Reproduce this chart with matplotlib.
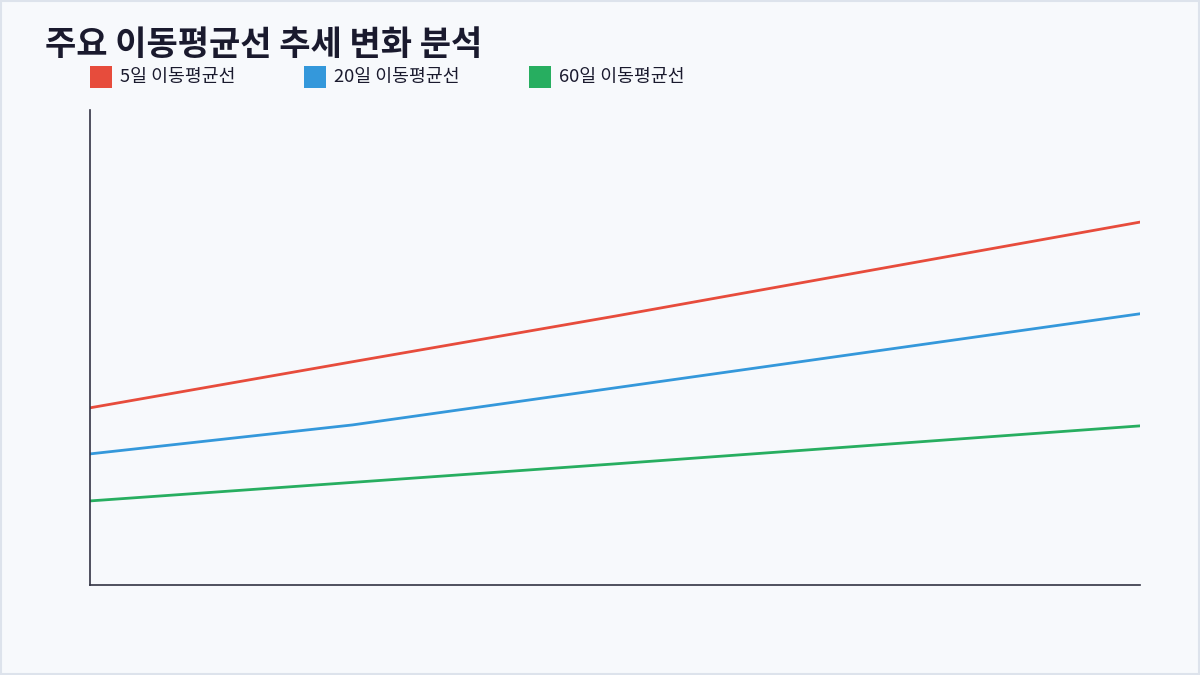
import matplotlib
matplotlib.use("Agg")
import matplotlib.pyplot as plt
from matplotlib.patches import Rectangle

plt.rcParams['font.family'] = ['Noto Sans CJK KR', 'DejaVu Sans']

periods = [0, 1, 2, 3, 4]
ma5 = [37.3, 47.0, 56.6, 66.5, 76.4]
ma20 = [27.6, 33.7, 41.5, 49.3, 57.1]
ma60 = [17.7, 21.6, 25.5, 29.5, 33.5]
labels = ["5일 이동평균선", "20일 이동평균선", "60일 이동평균선"]
colors = ["#e74c3c", "#3498db", "#27ae60"]

fig = plt.figure(figsize=(12, 6.75), dpi=100)
fig.patch.set_facecolor("#f7f9fc")
fig.add_artist(Rectangle((0.001, 0.001), 0.998, 0.997, transform=fig.transFigure,
                         fill=False, edgecolor="#dde3ec", linewidth=1.5))
ax = fig.add_axes([90/1200, 1-585/675, 1050/1200, 475/675])
ax.set_facecolor("#f7f9fc")
for s, c in zip([ma5, ma20, ma60], colors):
    ax.plot(periods, s, color=c, linewidth=2)
ax.set_xlim(0, 4)
ax.set_ylim(0, 100)
ax.set_xticks([]); ax.set_yticks([])
for sp in ["top", "right"]:
    ax.spines[sp].set_visible(False)
for sp in ["left", "bottom"]:
    ax.spines[sp].set_color("#333344")
    ax.spines[sp].set_linewidth(1.2)

fig.text(45/1200, 1-44/675, "주요 이동평균선 추세 변화 분석", fontsize=24.5, fontweight="bold",
         color="#1a1a2e", va="center", ha="left")
xs = [90, 304, 529]
for x, l, c in zip(xs, labels, colors):
    fig.add_artist(Rectangle((x/1200, 1-88/675), 22/1200, 22/675, transform=fig.transFigure,
                             facecolor=c, edgecolor="none"))
    fig.text((x+30)/1200, 1-77/675, l, fontsize=13.2, fontweight="medium",
             color="#1a1a2e", va="center", ha="left")

fig.savefig("out.png", dpi=100, facecolor=fig.get_facecolor())
